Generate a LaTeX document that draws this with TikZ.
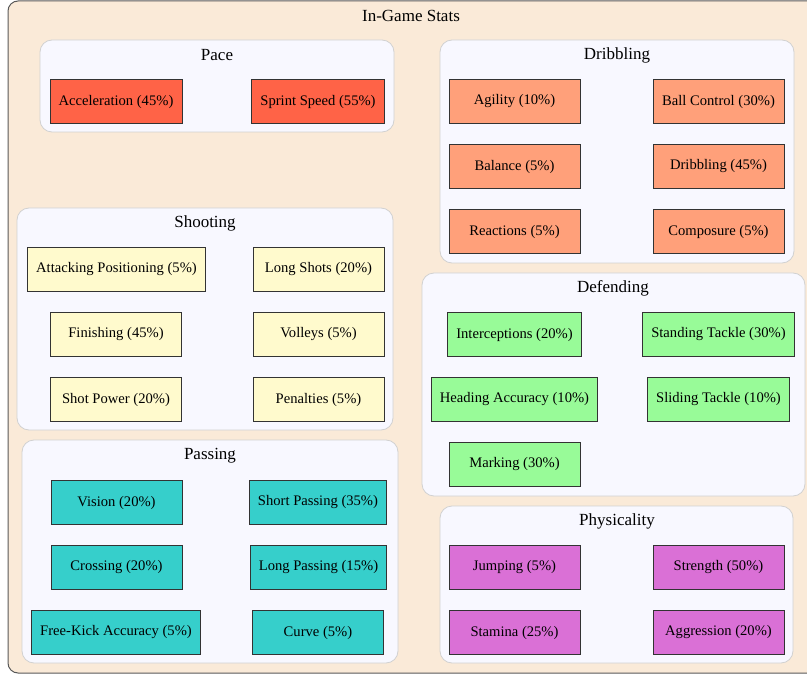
\documentclass[tikz,border=0pt]{standalone}
\usepackage{fontspec}
\setmainfont{Liberation Serif}
\usepackage{xcolor}

\definecolor{panel}{HTML}{FAEAD8}
\definecolor{ghost}{HTML}{F8F8FF}
\definecolor{pace}{HTML}{FF6347}
\definecolor{dribble}{HTML}{FFA07A}
\definecolor{shoot}{HTML}{FFFACD}
\definecolor{pass}{HTML}{36CFCB}
\definecolor{defend}{HTML}{98FB98}
\definecolor{physic}{HTML}{DA70D6}

\begin{document}
\begin{tikzpicture}[x=1pt, y=-1pt,
    stat/.style={draw=black!80, line width=0.8pt, minimum width=131pt, minimum height=44pt,
        inner xsep=8.7pt, font=\fontsize{14.6}{16}\selectfont},
    group/.style={draw=black!18, line width=0.8pt, fill=ghost, rounded corners=12pt},
    grouptitle/.style={font=\fontsize{17}{19}\selectfont}]
    \useasboundingbox (0,0) rectangle (807,674);

    % Outer frame
    \draw[draw=black!65, line width=1pt, fill=panel, rounded corners=10pt] (8,1) rectangle (818,673);
    \node[grouptitle] (title) at (411, 16) {In-Game Stats};

    % Pace
    \draw[group] (40,40) rectangle (394,132);
    \node[grouptitle] (paceT) at (217, 55) {Pace};
    \node[stat, fill=pace] (accel) at (116, 101.5) {Acceleration (45\%)};
    \node[stat, fill=pace] (sprint) at (318, 101.5) {Sprint Speed (55\%)};

    % Dribbling
    \draw[group] (440,40) rectangle (794,263);
    \node[grouptitle] (dribT) at (617, 55) {Dribbling};
    \node[stat, fill=dribble] (agility) at (514.5, 101.5) {Agility (10\%)};
    \node[stat, fill=dribble] (ballctl) at (718.5, 101.5) {Ball Control (30\%)};
    \node[stat, fill=dribble] (balance) at (514.5, 166.5) {Balance (5\%)};
    \node[stat, fill=dribble] (dribble) at (718.5, 166.5) {Dribbling (45\%)};
    \node[stat, fill=dribble] (reaction) at (514.5, 231.5) {Reactions (5\%)};
    \node[stat, fill=dribble] (compose) at (718.5, 231.5) {Composure (5\%)};

    % Shooting
    \draw[group] (17,208) rectangle (393,430);
    \node[grouptitle] (shootT) at (205, 223) {Shooting};
    \node[stat, fill=shoot] (attpos) at (116.5, 269.5) {Attacking Positioning (5\%)};
    \node[stat, fill=shoot] (longshot) at (318.5, 269.5) {Long Shots (20\%)};
    \node[stat, fill=shoot] (finish) at (116, 334.5) {Finishing (45\%)};
    \node[stat, fill=shoot] (volley) at (318.5, 334.5) {Volleys (5\%)};
    \node[stat, fill=shoot] (shotpow) at (116, 399.5) {Shot Power (20\%)};
    \node[stat, fill=shoot] (penalty) at (318.5, 399.5) {Penalties (5\%)};

    % Passing
    \draw[group] (22,440) rectangle (398,663);
    \node[grouptitle] (passT) at (210, 456) {Passing};
    \node[stat, fill=pass] (vision) at (116.5, 502.5) {Vision (20\%)};
    \node[stat, fill=pass] (shortpass) at (318, 502.5) {Short Passing (35\%)};
    \node[stat, fill=pass] (cross) at (116.5, 567.5) {Crossing (20\%)};
    \node[stat, fill=pass] (longpass) at (318.5, 567.5) {Long Passing (15\%)};
    \node[stat, fill=pass] (freekick) at (116, 632.5) {Free-Kick Accuracy (5\%)};
    \node[stat, fill=pass] (curve) at (318, 632.5) {Curve (5\%)};

    % Defending
    \draw[group] (422,273) rectangle (805,496);
    \node[grouptitle] (defT) at (613, 288) {Defending};
    \node[stat, fill=defend] (intercept) at (514.5, 334.5) {Interceptions (20\%)};
    \node[stat, fill=defend] (standtk) at (718.5, 334.5) {Standing Tackle (30\%)};
    \node[stat, fill=defend] (heading) at (514.5, 399.5) {Heading Accuracy (10\%)};
    \node[stat, fill=defend] (slidetk) at (718.5, 399.5) {Sliding Tackle (10\%)};
    \node[stat, fill=defend] (marking) at (514.5, 464.5) {Marking (30\%)};

    % Physicality
    \draw[group] (440,506) rectangle (793,663);
    \node[grouptitle] (physT) at (617, 521) {Physicality};
    \node[stat, fill=physic] (jumping) at (514.5, 567.5) {Jumping (5\%)};
    \node[stat, fill=physic] (strength) at (718.5, 567.5) {Strength (50\%)};
    \node[stat, fill=physic] (stamina) at (514.5, 632.5) {Stamina (25\%)};
    \node[stat, fill=physic] (aggress) at (718.5, 632.5) {Aggression (20\%)};
\end{tikzpicture}
\end{document}
